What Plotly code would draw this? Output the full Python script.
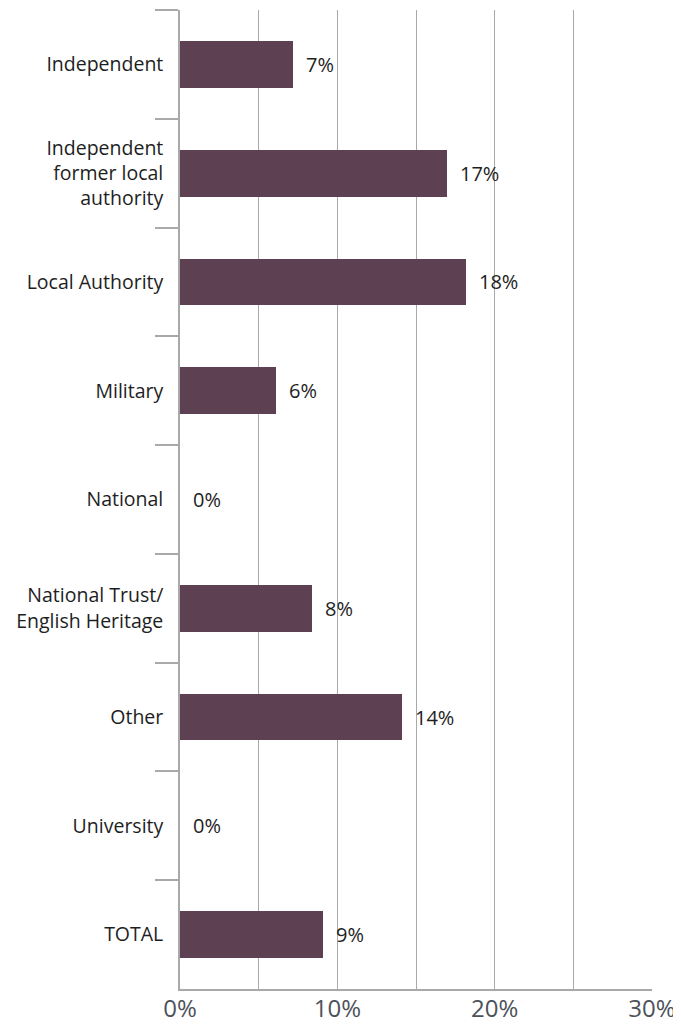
import plotly.graph_objects as go

categories = [
    "Independent",
    "Independent<br>former local<br>authority",
    "Local Authority",
    "Military",
    "National",
    "National Trust/<br>English Heritage",
    "Other",
    "University",
    "TOTAL",
]
values = [7.2, 17.0, 18.2, 6.1, 0.0, 8.4, 14.1, 0.0, 9.1]
x_tick_vals = [0, 10, 20, 30]
x_tick_text = ["0%", "10%", "20%", "30%"]

BAR = "#5d4153"
GRID = "#a9a9a9"
TXT = "#1e1e1e"
FONT = "Open Sans"

fig = go.Figure()
fig.add_trace(go.Bar(
    x=values,
    y=categories,
    orientation="h",
    width=0.43,
    marker=dict(color=BAR, line=dict(width=0)),
    hoverinfo="skip",
))

for c, v in zip(categories, values):
    fig.add_annotation(
        x=v, y=c, xref="x", yref="y",
        text=f"{round(v)}%",
        showarrow=False, xanchor="left", yanchor="middle",
        xshift=11,
        font=dict(family=FONT, size=20, color=TXT),
    )

# page body has an 8px default margin, so the figure is sized to fit the window
fig.update_layout(
    width=673, height=1018,
    margin=dict(l=172, r=29, t=2, b=37),
    paper_bgcolor="white", plot_bgcolor="white",
    showlegend=False,
    bargap=0,
)

fig.update_xaxes(
    range=[0, 30],
    tickvals=x_tick_vals, ticktext=x_tick_text,
    showgrid=True, gridcolor=GRID, gridwidth=1.4,
    minor=dict(dtick=5, tick0=0, showgrid=True, gridcolor=GRID, gridwidth=1.4, ticks=""),
    showline=True, linecolor=GRID, linewidth=1.6,
    ticks="", zeroline=False,
    ticklabelstandoff=-3,
    tickfont=dict(family=FONT, size=24, color="#4d525a"),
    automargin=False,
    fixedrange=True,
)

fig.update_yaxes(
    categoryorder="array", categoryarray=categories,
    autorange="reversed",
    showline=True, linecolor=GRID, linewidth=1.6,
    ticks="outside", tickson="boundaries", ticklen=23, tickcolor=GRID, tickwidth=1.6,
    ticklabelstandoff=11,
    showgrid=False, zeroline=False,
    tickfont=dict(family=FONT, size=19.5, color=TXT),
    automargin=False,
    fixedrange=True,
)

fig.write_html("out.html")
